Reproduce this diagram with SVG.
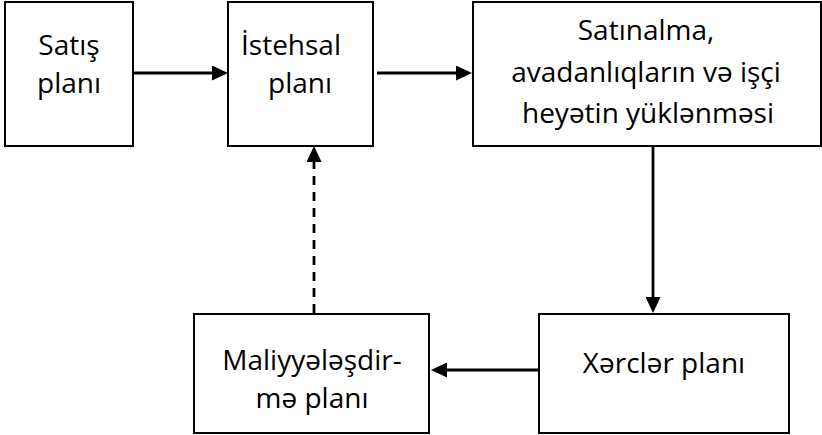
<svg xmlns="http://www.w3.org/2000/svg" width="822" height="435" viewBox="0 0 822 435">
  <style>
    .box { fill: #ffffff; stroke: #000000; stroke-width: 2; }
    .lbl { font-family: "Open Sans", "Noto Sans", sans-serif; font-size: 28px; fill: #000000; text-anchor: middle; }
    .link { stroke: #000000; stroke-width: 2.8; fill: none; marker-end: url(#head); }
    .dash { stroke-dasharray: 9 7; }
  </style>
  <defs>
    <marker id="head" markerUnits="userSpaceOnUse" viewBox="0 0 16 15" markerWidth="16" markerHeight="15" refX="6" refY="7.5" orient="auto">
      <path d="M0,0 L16,7.5 L0,15 Z" fill="#000000"/>
    </marker>
  </defs>

  <rect width="822" height="435" fill="#ffffff"/>

  <!-- connectors -->
  <g id="connectors">
    <line class="link" x1="133" y1="73" x2="218" y2="73"/>
    <line class="link" x1="377" y1="73" x2="462" y2="73"/>
    <line class="link" x1="653" y1="146" x2="653" y2="303"/>
    <line class="link" x1="538" y1="370" x2="441" y2="370"/>
    <line class="link dash" x1="314" y1="313" x2="314" y2="156"/>
  </g>

  <g id="sales-plan">
    <rect class="box" x="5" y="2" width="128" height="144"/>
    <text class="lbl" x="69" y="55">Satış</text>
    <text class="lbl" x="69" y="93">planı</text>
  </g>

  <g id="production-plan">
    <rect class="box" x="228" y="2" width="145" height="144"/>
    <text class="lbl" x="291" y="55">İstehsal</text>
    <text class="lbl" x="300" y="93">planı</text>
  </g>

  <g id="procurement">
    <rect class="box" x="473" y="2" width="348" height="144"/>
    <text class="lbl" x="646" y="40">Satınalma,</text>
    <text class="lbl" x="646" y="82">avadanlıqların və işçi</text>
    <text class="lbl" x="648" y="123">heyətin yüklənməsi</text>
  </g>

  <g id="cost-plan">
    <rect class="box" x="539" y="314" width="250" height="119"/>
    <text class="lbl" x="664" y="373">Xərclər planı</text>
  </g>

  <g id="financing-plan">
    <rect class="box" x="194" y="314" width="235" height="119"/>
    <text class="lbl" x="312" y="370">Maliyyələşdir-</text>
    <text class="lbl" x="312" y="408">mə planı</text>
  </g>
</svg>
